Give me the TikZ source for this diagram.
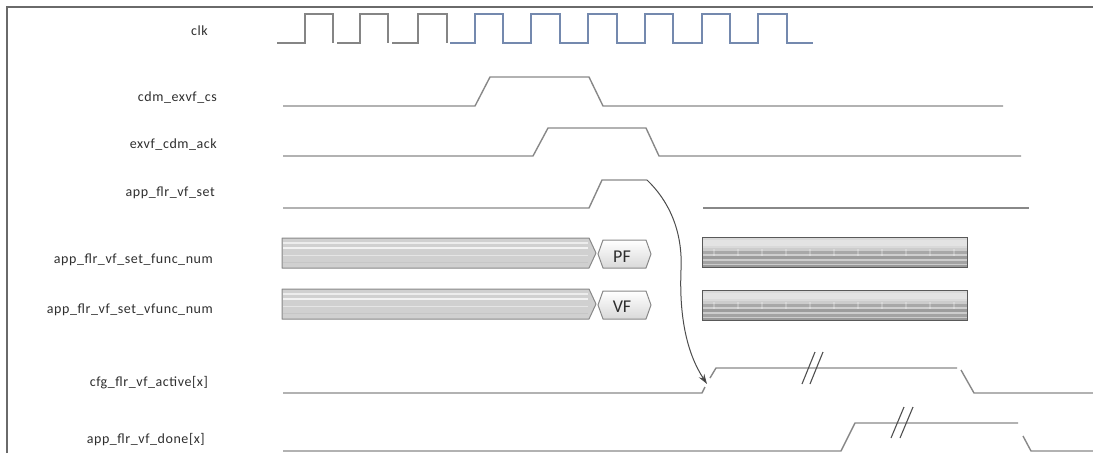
\documentclass[tikz,border=0pt]{standalone}
\usepackage{fontspec}
\newfontfamily\lblfont[LetterSpace=4]{Carlito}
\newfontfamily\busfont{Carlito}
\usetikzlibrary{arrows.meta}
\definecolor{framegray}{HTML}{6A6A6A}
\definecolor{linegray}{HTML}{888888}
\definecolor{clkgray}{HTML}{858585}
\definecolor{clkblue}{HTML}{7489AE}
\definecolor{txtgray}{HTML}{2E2E2E}
\definecolor{busgray}{HTML}{D0D0D0}
\definecolor{busedge}{HTML}{888888}
\definecolor{brkgray}{HTML}{505050}
\tikzset{
  lbl/.style={anchor=east, inner sep=0pt, text=txtgray, font=\lblfont\fontsize{14}{16}\selectfont},
  valtxt/.style={inner sep=0pt, text=txtgray, font=\busfont\fontsize{18}{20}\selectfont},
  sig/.style={draw=linegray, line width=1.4pt, line join=round},
  clkg/.style={draw=clkgray, line width=1.6pt, line join=miter},
  clkb/.style={draw=clkblue, line width=1.6pt, line join=miter},
  brk/.style={draw=brkgray, line width=1.1pt},
  flowarrow/.style={draw=gray!60!black, line width=1pt, -{Stealth[length=10pt,width=6.5pt,fill=black!80]}},
  busbar/.pic={
    \path[fill=busgray] (0,0) -- (307,0) -- (314,15) -- (307,30) -- (0,30) -- cycle;
    \draw[white!85!gray, line width=1.2pt] (1,5) -- (306,5);
    \draw[white!90!gray, line width=1.4pt] (1,10) -- (306,10);
    \draw[white!80!gray, line width=1pt] (1,17) -- (306,17);
    \draw[gray!45, line width=0.8pt] (1,24) -- (306,24);
    \draw[busedge, line width=1pt, line join=round] (0,0) -- (307,0) -- (314,15) -- (307,30) -- (0,30) -- cycle;
  },
  hexval/.pic={
    \path[top color=white, bottom color=gray!30, draw=busedge, line width=1pt, line join=round]
      (0,14) -- (5,0) -- (48,0) -- (53,14) -- (48,28) -- (5,28) -- cycle;
  },
  texbox/.pic={
    \fill[gray!30] (0,0) rectangle (265,30);
    \fill[gray!22] (0,3) rectangle (265,9);
    \fill[gray!40] (0,11) rectangle (265,14);
    \fill[gray!68] (0,14) rectangle (265,17);
    \fill[gray!38] (0,17) rectangle (265,18.5);
    \fill[gray!78] (0,18.5) rectangle (265,22);
    \fill[gray!40] (0,22) rectangle (265,23.5);
    \fill[gray!72] (0,23.5) rectangle (265,27);
    \fill[gray!40] (0,27) rectangle (265,28);
    \fill[gray!80] (0,28) rectangle (265,30);
    \foreach \k in {12,36,...,252} {\draw[white, opacity=0.25, line width=2pt] (\k,12) -- (\k,19);}
    \draw[gray!70!black, line width=1pt] (0,0) rectangle (265,30);
  }
}
\begin{document}
\begin{tikzpicture}[x=1pt,y=-1pt]
\useasboundingbox (0,0) rectangle (1093,453);
% frame
\draw[framegray, line width=1.6pt] (7,453) -- (7,7) -- (1093,7);

% labels
\node[lbl] (lclk)  at (208,31)  {clk};
\node[lbl] (lcs)   at (217,98)  {cdm\_exvf\_cs};
\node[lbl] (lack)  at (217,145) {exvf\_cdm\_ack};
\node[lbl] (lset)  at (215,193) {app\_flr\_vf\_set};
\node[lbl] (lfn)   at (213,260) {app\_flr\_vf\_set\_func\_num};
\node[lbl] (lvfn)  at (213,310) {app\_flr\_vf\_set\_vfunc\_num};
\node[lbl] (lact)  at (208,383) {cfg\_flr\_vf\_active[x]};
\node[lbl] (ldone) at (205,440) {app\_flr\_vf\_done[x]};

% clock
\draw[clkg] (277,43) -- (305,43) -- (305,14) -- (333,14) -- (333,43);
\draw[clkg] (337,43) -- (360,43) -- (360,14) -- (388,14) -- (388,43);
\draw[clkg] (392,43) -- (418,43) -- (418,14) -- (447,14) -- (447,43);
\draw[clkb] (450,43) -- (475,43) -- (475,14) -- (503,14) -- (503,43)
  -- (531,43) -- (531,14) -- (560,14) -- (560,43)
  -- (588,43) -- (588,14) -- (617,14) -- (617,43)
  -- (645,43) -- (645,14) -- (673,14) -- (673,43)
  -- (702,43) -- (702,14) -- (730,14) -- (730,43)
  -- (758,43) -- (758,14) -- (787,14) -- (787,43) -- (813,43);

% cdm_exvf_cs
\draw[sig] (283,106) -- (475,106) -- (490,77) -- (589,77) -- (603,106) -- (1003,106);
% exvf_cdm_ack
\draw[sig] (283,156) -- (533,156) -- (548,128) -- (646,128) -- (659,156) -- (1021,156);
% app_flr_vf_set
\draw[sig] (283,208) -- (589,208) -- (602,180) -- (647,180);
\draw[sig] (703,208) -- (1029,208);

% buses
\pic at (282,238) {busbar};
\pic at (282,289) {busbar};
\pic at (598,240) {hexval};
\pic at (598,291) {hexval};
\node[valtxt] (vpf) at (622,257) {PF};
\node[valtxt] (vvf) at (622,307) {VF};
\pic at (702,237) {texbox};
\pic at (702,290) {texbox};

% cfg_flr_vf_active[x]
\draw[sig] (283,393) -- (702,393) -- (705,387);
\draw[sig] (710,378) -- (716,368) -- (957,368);
\draw[sig] (961,370) -- (974,393) -- (1093,393);
\draw[brk] (802,384) -- (815,352);
\draw[brk] (810,384) -- (823,352);

% app_flr_vf_done[x]
\draw[sig] (283,451) -- (841,451) -- (855,423) -- (1018,423);
\draw[sig] (1023,436) -- (1031,451) -- (1093,451);
\draw[brk] (891,438) -- (904,407);
\draw[brk] (900,438) -- (913,407);

% causality arrow
\coordinate (setend) at (647,180);
\coordinate (acttip) at (707,384);
\draw[flowarrow] (setend) .. controls (668,200) and (683,230) .. (681,270)
  .. controls (679,320) and (688,355) .. (acttip);
\end{tikzpicture}
\end{document}
